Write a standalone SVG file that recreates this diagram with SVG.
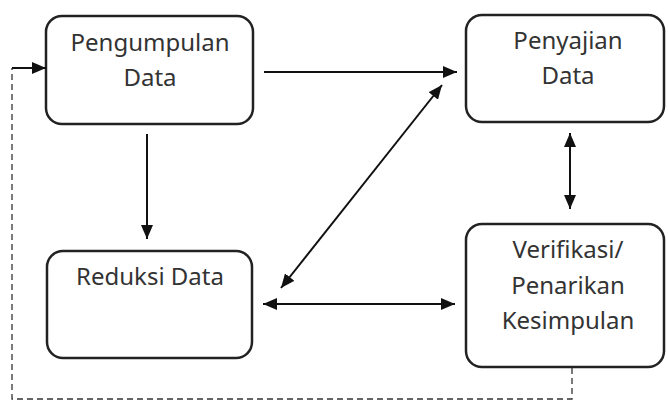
<svg xmlns="http://www.w3.org/2000/svg" width="668" height="403" viewBox="0 0 668 403">
  <style>
    .box { fill: #fff; stroke: #222; stroke-width: 2.5; }
    .lbl { font-family: "Noto Sans", "Open Sans", sans-serif; font-size: 24px; fill: #333; text-anchor: middle; }
    .ln { stroke: #111; stroke-width: 2; fill: none; }
    .dash { stroke: #333; stroke-width: 1.3; fill: none; stroke-dasharray: 6 4; }
  </style>
  <defs>
    <marker id="ah" viewBox="0 0 14 12" refX="14" refY="6" markerWidth="14" markerHeight="12" markerUnits="userSpaceOnUse" orient="auto-start-reverse">
      <path d="M0,0 L14,6 L0,12 Z" fill="#111"/>
    </marker>
  </defs>
  <rect width="668" height="403" fill="#fff"/>

  <g id="pengumpulan">
    <rect class="box" x="46" y="16" width="207" height="108" rx="16"/>
    <text class="lbl" x="150" y="51">Pengumpulan</text>
    <text class="lbl" x="150" y="86">Data</text>
  </g>
  <g id="penyajian">
    <rect class="box" x="466" y="15" width="198" height="107" rx="16"/>
    <text class="lbl" x="568" y="49">Penyajian</text>
    <text class="lbl" x="568" y="84">Data</text>
  </g>
  <g id="reduksi">
    <rect class="box" x="47" y="251" width="205" height="107" rx="16"/>
    <text class="lbl" x="150" y="285">Reduksi Data</text>
  </g>
  <g id="verifikasi">
    <rect class="box" x="466" y="224" width="198" height="143" rx="16"/>
    <text class="lbl" x="568" y="258">Verifikasi/</text>
    <text class="lbl" x="568" y="294">Penarikan</text>
    <text class="lbl" x="568" y="329">Kesimpulan</text>
  </g>

  <g id="connectors">
    <line class="ln" x1="264" y1="72" x2="457" y2="72" marker-end="url(#ah)"/>
    <line class="ln" x1="147" y1="134" x2="147" y2="239" marker-end="url(#ah)"/>
    <line class="ln" x1="442" y1="85" x2="281" y2="288" marker-start="url(#ah)" marker-end="url(#ah)"/>
    <line class="ln" x1="263" y1="304" x2="455" y2="304" marker-start="url(#ah)" marker-end="url(#ah)"/>
    <line class="ln" x1="570" y1="133" x2="570" y2="209" marker-start="url(#ah)" marker-end="url(#ah)"/>
    <polyline class="dash" points="572,368 572,399 12,399 12,68"/>
    <line class="ln" x1="12" y1="68" x2="46" y2="68" marker-end="url(#ah)"/>
  </g>
</svg>
